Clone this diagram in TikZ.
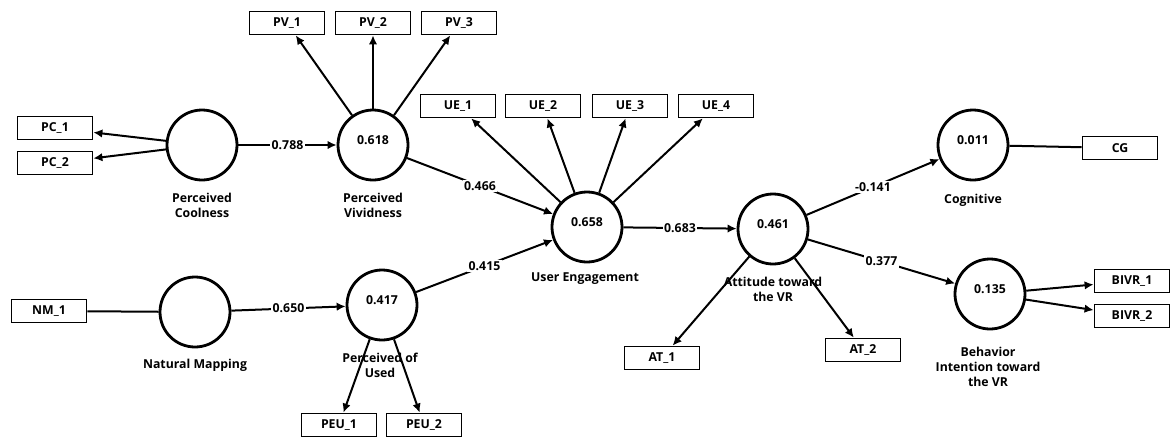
\documentclass[tikz,border=0pt]{standalone}
\usepackage{fontspec}
\setmainfont{Open Sans}
\usetikzlibrary{arrows.meta}
\tikzset{
  lv/.style={circle, draw, line width=2.8pt, minimum size=70pt, inner sep=0pt, text depth=10pt},
  ind/.style={rectangle, draw, line width=1.8pt, minimum width=75pt, minimum height=23pt, inner sep=0pt},
  lvlab/.style={align=center, inner sep=0pt},
  coef/.style={fill=white, inner sep=1.5pt}
}
\begin{document}
\begin{tikzpicture}[x=1pt, y=-1pt, font=\bfseries\fontsize{12.3}{15}\selectfont, >={Latex[length=9pt,width=8.5pt]}, line width=2pt]
\useasboundingbox (0,0) rectangle (1171,437);
% latent variables
\node[lv] (pc) at (202,145) {};
\node[lv] (pv) at (373,145) {0.618};
\node[lv] (nm) at (195,312) {};
\node[lv] (peu) at (382,305) {0.417};
\node[lv] (ue) at (587,227) {0.658};
\node[lv] (att) at (773,229) {0.461};
\node[lv] (cg) at (973,145) {0.011};
\node[lv] (bivr) at (990,294) {0.135};
\node[lvlab] (pcl) at (202,205.5) {Perceived\\Coolness};
\node[lvlab] (pvl) at (373,205.5) {Perceived\\Vividness};
\node[lvlab] (nml) at (195,365) {Natural Mapping};
\node[lvlab] (peul) at (380,365.5) {Perceived of\\Used};
\node[lvlab] (uel) at (585,279) {User Engagement};
\node[lvlab] (attl) at (773,289.5) {Attitude toward\\the VR};
\node[lvlab] (cgl) at (973,200) {Cognitive};
\node[lvlab] (bivrl) at (988,367) {Behavior\\Intention toward\\the VR};
% indicators
\node[ind] (pc1) at (55,128) {PC\_1};
\node[ind] (pc2) at (55,163) {PC\_2};
\foreach \i/\x in {1/287,2/373,3/459}
	\node[ind] (pv\i) at (\x,23) {PV\_\i};
\node[ind] (nm1) at (49,311) {NM\_1};
\node[ind] (peu1) at (339,425) {PEU\_1};
\node[ind] (peu2) at (424,425) {PEU\_2};
\foreach \i/\x in {1/458,2/543,3/630,4/716}
	\node[ind] (ue\i) at (\x,106) {UE\_\i};
\node[ind] (at1) at (662,358) {AT\_1};
\node[ind] (at2) at (863,350) {AT\_2};
\node[ind] (cg1) at (1120,148) {CG};
\node[ind] (bivr1) at (1132,281) {BIVR\_1};
\node[ind] (bivr2) at (1132,316) {BIVR\_2};
% outer model
\foreach \j in {1,2} {
	\draw[->] (pc) -- (pc\j);
	\draw[->] (peu) -- (peu\j);
	\draw[->] (att) -- (at\j);
	\draw[->] (bivr) -- (bivr\j);
}
\foreach \j in {1,2,3}
	\draw[->] (pv) -- (pv\j);
\foreach \j in {1,...,4}
	\draw[->] (ue) -- (ue\j);
\draw (nm1) -- (nm);
\draw (cg) -- (cg1);
% inner model
\draw[->] (pc) -- node[coef] (b1) {0.788} (pv);
\draw[->] (nm) -- node[coef] (b2) {0.650} (peu);
\draw[->] (pv) -- node[coef] (b3) {0.466} (ue);
\draw[->] (peu) -- node[coef] (b4) {0.415} (ue);
\draw[->] (ue) -- node[coef] (b5) {0.683} (att);
\draw[->] (att) -- node[coef] (b6) {-0.141} (cg);
\draw[->] (att) -- node[coef] (b7) {0.377} (bivr);
\end{tikzpicture}
\end{document}
